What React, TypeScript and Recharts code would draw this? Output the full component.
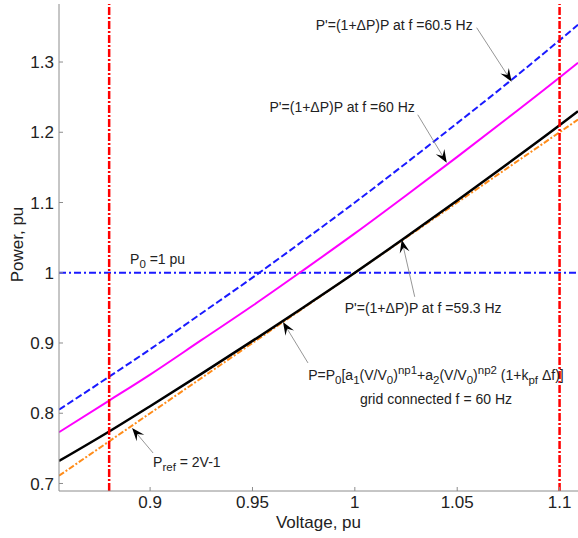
import { LineChart, Line, XAxis, YAxis, ReferenceLine, ReferenceDot } from "recharts";

const FONT = "'Liberation Sans', Arial, sans-serif";
const AXIS = "#8c8c8c";

// voltage samples, pu
const volts = [0.8555, 0.88, 0.9, 0.925, 0.95, 0.975, 1, 1.025, 1.05, 1.075, 1.1, 1.109];
// grid connected f = 60 Hz / 59.3 Hz (black)
const pGrid = [0.732, 0.774, 0.81, 0.856, 0.903, 0.951, 1.0, 1.051, 1.103, 1.156, 1.21, 1.23];
// f = 60 Hz (magenta)
const p60 = [0.773, 0.818, 0.855, 0.904, 0.953, 1.004, 1.056, 1.11, 1.165, 1.221, 1.278, 1.299];
// f = 60.5 Hz (blue)
const p605 = [0.805, 0.852, 0.891, 0.942, 0.993, 1.046, 1.1, 1.156, 1.213, 1.271, 1.331, 1.353];
// Pref = 2V-1 (orange)
const pRef = [0.711, 0.76, 0.8, 0.85, 0.9, 0.95, 1.0, 1.05, 1.1, 1.15, 1.2, 1.218];

const xTicks = [0.9, 0.95, 1, 1.05, 1.1];
const yTicks = [0.7, 0.8, 0.9, 1, 1.1, 1.2, 1.3];
const vLimits = [0.88, 1.1];
const p0 = 1;

const data = volts.map((v, i) => ({ v, grid: pGrid[i], f60: p60[i], f605: p605[i], ref: pRef[i] }));

type Seg = { t: string; s?: "sub" | "sup" };

const Rich = ({ x, y, segs, anchor = "start" }: { x: number; y: number; segs: Seg[]; anchor?: string }) => {
  let cur = 0;
  return (
    <text x={x} y={y} fontSize={14} fontFamily={FONT} fill="#222" textAnchor={anchor}>
      {segs.map((sg, i) => {
        const target = sg.s === "sub" ? 4 : sg.s === "sup" ? -6 : 0;
        const dy = target - cur;
        cur = target;
        return (
          <tspan key={i} dy={dy} fontSize={sg.s ? 11.5 : 14}>
            {sg.t}
          </tspan>
        );
      })}
    </text>
  );
};

// arrow from a tail offset to the point (cx, cy), with text at an offset
const Annot = (props: any) => {
  const { cx, cy, tail, text } = props;
  if (cx == null || cy == null) return null;
  const tx = cx + tail[0];
  const ty = cy + tail[1];
  const len = Math.hypot(cx - tx, cy - ty);
  const ux = (cx - tx) / len;
  const uy = (cy - ty) / len;
  const bx = cx - ux * 13;
  const by = cy - uy * 13;
  const hx = cx - ux * 8;
  const hy = cy - uy * 8;
  return (
    <g>
      <line x1={tx} y1={ty} x2={hx} y2={hy} stroke="#8a8a8a" strokeWidth={0.9} />
      <path
        d={`M${cx} ${cy}L${bx - uy * 5} ${by + ux * 5}L${hx} ${hy}L${bx + uy * 5} ${by - ux * 5}Z`}
        fill="#000"
      />
      {text.map((tl: any, i: number) => (
        <Rich key={i} x={cx + tl.dx} y={cy + tl.dy} segs={tl.segs} anchor={tl.anchor} />
      ))}
    </g>
  );
};

const TextOnly = (props: any) => {
  const { cx, cy, text } = props;
  if (cx == null || cy == null) return null;
  return (
    <g>
      {text.map((tl: any, i: number) => (
        <Rich key={i} x={cx + tl.dx} y={cy + tl.dy} segs={tl.segs} anchor={tl.anchor} />
      ))}
    </g>
  );
};

const dp = "P'=(1+\u0394P)P at f =";

const annots = [
  { v: 1.0766, p: 1.272, tail: [-35, -54], text: [{ dx: -39, dy: -52, anchor: "end", segs: [{ t: dp + "60.5 Hz" }] }] },
  { v: 1.0449, p: 1.1566, tail: [-29, -48], text: [{ dx: -32, dy: -51, anchor: "end", segs: [{ t: dp + "60 Hz" }] }] },
  { v: 1.0229, p: 1.0469, tail: [13, 57], text: [{ dx: -57, dy: 73, anchor: "start", segs: [{ t: dp + "59.3 Hz" }] }] },
  {
    v: 0.9649,
    p: 0.93,
    tail: [25, 41],
    text: [
      {
        dx: 153,
        dy: 58,
        anchor: "middle",
        segs: [
          { t: "P=P" },
          { t: "0", s: "sub" },
          { t: "[a" },
          { t: "1", s: "sub" },
          { t: "(V/V" },
          { t: "0", s: "sub" },
          { t: ")" },
          { t: "np1", s: "sup" },
          { t: "+a" },
          { t: "2", s: "sub" },
          { t: "(V/V" },
          { t: "0", s: "sub" },
          { t: ")" },
          { t: "np2", s: "sup" },
          { t: " (1+k" },
          { t: "pf", s: "sub" },
          { t: " \u0394f)]" },
        ],
      },
      { dx: 153, dy: 82, anchor: "middle", segs: [{ t: "grid connected f = 60 Hz" }] },
    ],
  },
  {
    v: 0.8912,
    p: 0.779,
    tail: [21, 25],
    text: [{ dx: 21, dy: 39, anchor: "start", segs: [{ t: "P" }, { t: "ref", s: "sub" }, { t: " = 2V-1" }] }],
  },
];

const XLabel = (props: any) => {
  const { x, y, width } = props.viewBox;
  return (
    <text x={x + width / 2} y={y + 37} textAnchor="middle" fontSize={17} fontFamily={FONT} fill="#222">
      Voltage, pu
    </text>
  );
};

const YLabel = (props: any) => {
  const { y, height } = props.viewBox;
  const cy = y + height / 2 - 3;
  return (
    <text
      x={23}
      y={cy}
      transform={`rotate(-90 23 ${cy})`}
      textAnchor="middle"
      fontSize={17}
      fontFamily={FONT}
      fill="#222"
    >
      Power, pu
    </text>
  );
};

export default function App() {
  const tickStyle = { fontSize: 17, fill: "#222", fontFamily: FONT };
  return (
    <div style={{ position: "fixed", left: 0, top: 0, background: "#fff" }}>
      <LineChart width={578} height={538} data={data} margin={{ top: 4, right: 0, bottom: 0, left: 0 }}>
        <XAxis
          xAxisId="b"
          dataKey="v"
          type="number"
          domain={[0.8555, 1.109]}
          allowDataOverflow
          ticks={xTicks}
          height={47}
          tickSize={-4}
          tickMargin={9}
          stroke={AXIS}
          tick={tickStyle}
          label={<XLabel />}
        />
        <XAxis
          xAxisId="t"
          orientation="top"
          dataKey="v"
          type="number"
          domain={[0.8555, 1.109]}
          allowDataOverflow
          ticks={xTicks}
          height={0}
          tickSize={-4}
          stroke={AXIS}
          tick={false}
        />
        <YAxis
          yAxisId="l"
          type="number"
          domain={[0.6893, 1.3826]}
          allowDataOverflow
          ticks={yTicks}
          width={59}
          tickSize={-4}
          tickMargin={9}
          stroke={AXIS}
          tick={tickStyle}
          label={<YLabel />}
        />
        <YAxis
          yAxisId="r"
          orientation="right"
          type="number"
          domain={[0.6893, 1.3826]}
          allowDataOverflow
          ticks={yTicks}
          width={0}
          tickSize={-4}
          stroke={AXIS}
          tick={false}
        />
        <ReferenceLine
          xAxisId="b"
          yAxisId="l"
          y={p0}
          stroke="#1a1aff"
          strokeWidth={1.8}
          strokeDasharray="7 3 2 3"
        />
        <Line xAxisId="b" yAxisId="l" dataKey="f605" type="monotone" stroke="#1a1aff" strokeWidth={2} strokeDasharray="7 3" dot={false} isAnimationActive={false} />
        <Line xAxisId="b" yAxisId="l" dataKey="f60" type="monotone" stroke="#ff00ff" strokeWidth={2} dot={false} isAnimationActive={false} />
        <Line xAxisId="b" yAxisId="l" dataKey="ref" type="monotone" stroke="#ff8c1a" strokeWidth={2} strokeDasharray="6 2 2 2" dot={false} isAnimationActive={false} />
        <Line xAxisId="b" yAxisId="l" dataKey="grid" type="monotone" stroke="#000" strokeWidth={2.5} dot={false} isAnimationActive={false} />
        {vLimits.map(v => (
          <ReferenceLine
            key={v}
            xAxisId="b"
            yAxisId="l"
            x={v}
            stroke="#ff0000"
            strokeWidth={2.5}
            strokeDasharray="8 2 2 2"
          />
        ))}
        <ReferenceDot
          xAxisId="b"
          yAxisId="l"
          x={0.8902}
          y={p0}
          r={0}
          shape={(p: any) => (
            <TextOnly {...p} text={[{ dx: 0, dy: -9, anchor: "start", segs: [{ t: "P" }, { t: "0", s: "sub" }, { t: " =1 pu" }] }]} />
          )}
        />
        {annots.map((a, i) => (
          <ReferenceDot
            key={i}
            xAxisId="b"
            yAxisId="l"
            x={a.v}
            y={a.p}
            r={0}
            shape={(p: any) => <Annot {...p} tail={a.tail} text={a.text} />}
          />
        ))}
      </LineChart>
    </div>
  );
}
